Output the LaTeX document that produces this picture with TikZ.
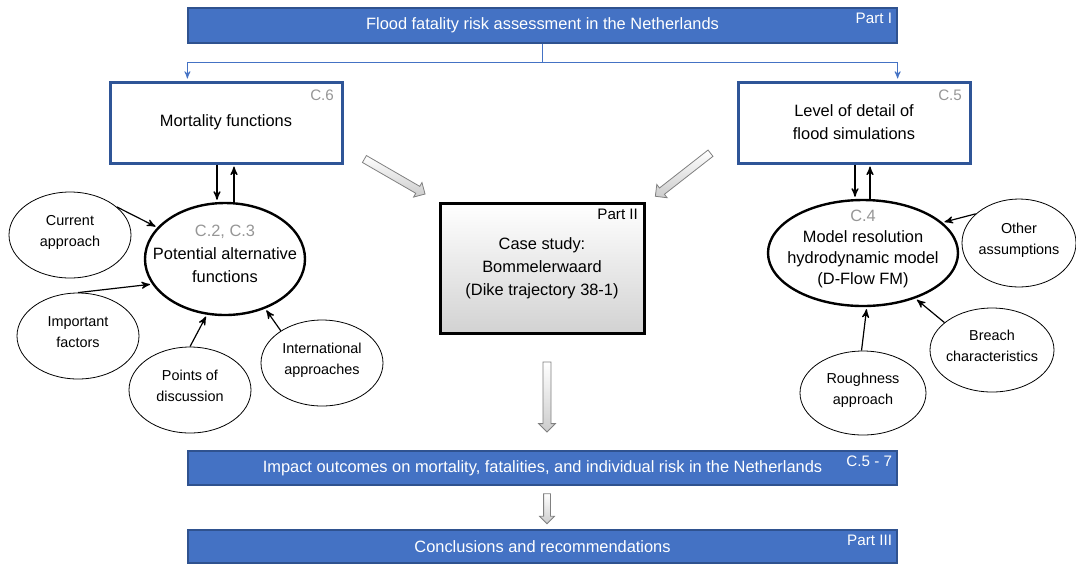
\documentclass[tikz,border=0pt]{standalone}
\usepackage{fontspec}
\setmainfont{Liberation Sans}
\usetikzlibrary{arrows,shapes.geometric,shapes.arrows}

\definecolor{barblue}{RGB}{68,114,196}
\definecolor{barline}{RGB}{47,82,143}
\definecolor{boxline}{RGB}{47,85,151}
\definecolor{taggray}{RGB}{150,150,150}

\newcommand{\etext}[1]{\makebox[0pt]{\smash{\begin{tabular}{@{}c@{}}#1\end{tabular}}}}

\begin{document}
\begin{tikzpicture}[x=0.5pt,y=-0.5pt,->,>=stealth',shorten >=1pt,semithick,
	bar node/.style={rectangle,draw=barline,fill=barblue,text=white,minimum width=354.5pt,minimum height=17.5pt,font=\fontsize{8.2}{10}\selectfont},
	main node/.style={rectangle,draw=boxline,line width=1.5pt,minimum width=116pt,minimum height=40.5pt,align=center,font=\fontsize{8.2}{11.5}\selectfont},
	big node/.style={ellipse,draw,line width=1.2pt,inner sep=0pt,font=\fontsize{8.2}{11.5}\selectfont},
	small node/.style={ellipse,draw,thin,inner sep=0pt,minimum width=61pt,minimum height=43pt,font=\fontsize{7.2}{10.5}\selectfont},
	tag/.style={inner sep=2.5pt,anchor=north east,font=\fontsize{7.6}{8}\selectfont},
	hollow/.style={single arrow,draw=gray,thin,top color=white,bottom color=gray!40,inner xsep=0pt,inner ysep=1.8pt,single arrow head extend=2.2pt}]
	
	\useasboundingbox (0,0) rectangle (1076,564);
	
	\node[bar node] (top) at (542.5,25.5) {Flood fatality risk assessment in the Netherlands};
	\node[tag,text=white] (p1) at (top.north east) {Part I};
	
	\node[main node] (mort) at (226,122.5) {Mortality functions};
	\node[tag,text=taggray,xshift=-2pt,yshift=-2pt] (c6) at (mort.north east) {C.6};
	\node[main node] (lev) at (854,122.5) {Level of detail of\\flood simulations};
	\node[tag,text=taggray,xshift=-2pt,yshift=-2pt] (c5) at (lev.north east) {C.5};
	
	\node[big node,minimum width=80pt,minimum height=56pt] (pot) at (225,259) {\etext{\textcolor{taggray}{C.2, C.3}\\Potential alternative\\functions}};
	\node[big node,minimum width=95pt,minimum height=53pt,font=\fontsize{8.2}{10.5}\selectfont] (mod) at (863,253) {\etext{\textcolor{taggray}{C.4}\\Model resolution\\hydrodynamic model\\(D-Flow FM)}};
	
	\node[small node] (cur) at (70,235) {\etext{Current\\approach}};
	\node[small node] (imp) at (78,336) {\etext{Important\\factors}};
	\node[small node] (poi) at (190,390) {\etext{Points of\\discussion}};
	\node[small node] (int) at (322,363) {\etext{International\\approaches}};
	\node[small node,minimum width=57pt,minimum height=44pt] (oth) at (1019,243) {\etext{Other\\assumptions}};
	\node[small node,minimum width=62pt,minimum height=42pt] (bre) at (992,350) {\etext{Breach\\characteristics}};
	\node[small node,minimum width=63pt,minimum height=42pt] (rou) at (863,393) {\etext{Roughness\\approach}};
	
	\node[rectangle,draw,line width=1.5pt,top color=white,bottom color=gray!35,minimum width=102pt,minimum height=65pt,align=center,font=\fontsize{8.2}{11.5}\selectfont] (case) at (542,268) {Case study:\\Bommelerwaard\\(Dike trajectory 38-1)};
	\node[tag,xshift=-1pt,yshift=-1pt] (p2) at (case.north east) {Part II};
	
	\node[bar node,minimum height=17pt] (out) at (542.5,468) {Impact outcomes on mortality, fatalities, and individual risk in the Netherlands};
	\node[tag,text=white] (c57) at (out.north east) {C.5 - 7};
	\node[bar node,minimum height=16.5pt] (con) at (542.5,546.5) {Conclusions and recommendations};
	\node[tag,text=white] (p3) at (con.north east) {Part III};
	
	\node[hollow,minimum height=35pt,rotate=-30] (ha) at (393,175.5) {};
	\node[hollow,minimum height=35pt,rotate=-142] (hb) at (684.5,173.5) {};
	\node[hollow,minimum height=35pt,rotate=-90] (hc) at (547,395) {};
	\node[hollow,minimum height=15pt,rotate=-90,inner ysep=1.5pt,single arrow head extend=2pt] (hd) at (547,507) {};
	
	\path (top.south) ++(0,19) coordinate (j);
	\draw[barblue,thin] (top.south) -- (j) -| (top.south west |- mort.north);
	\draw[barblue,thin] (j) -| (top.south east |- lev.north);
	
	\draw ([xshift=-4.5pt]mort.south) -- ([xshift=-4.5pt]mort.south |- pot.north);
	\draw ([xshift=4pt]mort.south |- pot.north) -- ([xshift=4pt]mort.south);
	\draw ([xshift=0.5pt]lev.south) -- ([xshift=0.5pt]lev.south |- mod.north);
	\draw ([xshift=8pt]lev.south |- mod.north) -- ([xshift=8pt]lev.south);
	
	\path
	(cur.31) edge (pot.155)
	(imp.90) edge (pot.199)
	(poi.90) edge (pot.252)
	(int.142) edge (pot.309)
	(oth.146) edge (mod.21)
	(bre.150) edge (mod.-41)
	(rou.92) edge (mod.-86);
\end{tikzpicture}
\end{document}
